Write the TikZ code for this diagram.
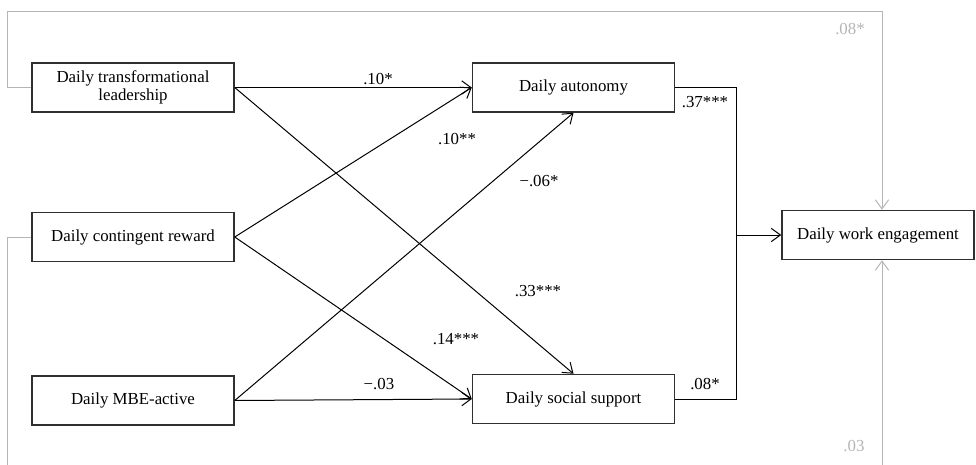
\documentclass[tikz,border=0pt]{standalone}
\usepackage{fontspec}
\setmainfont{Liberation Serif}
\usetikzlibrary{arrows.meta,positioning}
\definecolor{ctrlgray}{HTML}{B5B5B5}
\definecolor{boxline}{HTML}{303030}

\begin{document}
\begin{tikzpicture}[x=0.6pt, y=-0.6pt, >={Straight Barb[length=5.5pt,width=8pt]},
    var/.style={draw=boxline, line width=0.9pt, minimum width=121.2pt, minimum height=29.4pt,
                align=center, inner sep=2pt, font=\fontsize{10.1}{11}\selectfont},
    coef/.style={inner sep=0pt, font=\fontsize{10.1}{12}\selectfont},
    link/.style={->, draw=black, line width=0.6pt},
    ctrl/.style={draw=ctrlgray, line width=0.6pt}]
    \useasboundingbox (0,0) rectangle (976,465);

    % leadership behaviours
    \node[var]                          (trans)  at (133,87.5)  {Daily transformational\\leadership};
    \node[var, below=59.4pt of trans]   (reward)                {Daily contingent reward};
    \node[var, below=67.8pt of reward]  (mbe)                   {Daily MBE-active};

    % mediators and outcome
    \node[var, right=142.2pt of trans]  (auton)                 {Daily autonomy};
    \node[var, below=156.6pt of auton]  (social)                {Daily social support};
    \node[var, minimum width=115.2pt]   (engage) at (878,235)   {Daily work engagement};

    \coordinate (join) at (736,235);
    \coordinate (tl) at (7,11);
    \coordinate (tr) at (882,11);
    \coordinate (bl) at (7,465);
    \coordinate (br) at (882,465);

    % paths
    \draw[link] (trans.east)  -- (auton.west);
    \draw[link] (trans.east)  -- (social.north);
    \draw[link] (reward.east) -- (auton.west);
    \draw[link] (reward.east) -- (social.west);
    \draw[link] (mbe.east)    -- (auton.south);
    \draw[link] (mbe.east)    -- (social.west);

    \draw[line width=0.6pt] (auton.east)  -| (join);
    \draw[line width=0.6pt] (social.east) -| (join);
    \draw[link] (join) -- (engage.west);

    % controls
    \draw[ctrl] (trans.west) -| (tl) -- (tr);
    \draw[ctrl, ->] (tr) -- (tr |- engage.north);
    \draw[ctrl] (reward.west) -| (bl);
    \draw[ctrl, ->] (br) -- (br |- engage.south);

    % coefficients
    \node[coef] (c1) at (378,79)  {.10*};
    \node[coef] (c2) at (457,139) {.10**};
    \node[coef] (c3) at (539,181) {−.06*};
    \node[coef] (c4) at (538,291) {.33***};
    \node[coef] (c5) at (456,339) {.14***};
    \node[coef] (c6) at (379,384) {−.03};
    \node[coef] (c7) at (705,102) {.37***};
    \node[coef] (c8) at (705,384) {.08*};
    \node[coef, text=ctrlgray] (c9)  at (850,29)  {.08*};
    \node[coef, text=ctrlgray] (c10) at (854,446) {.03};
\end{tikzpicture}
\end{document}
